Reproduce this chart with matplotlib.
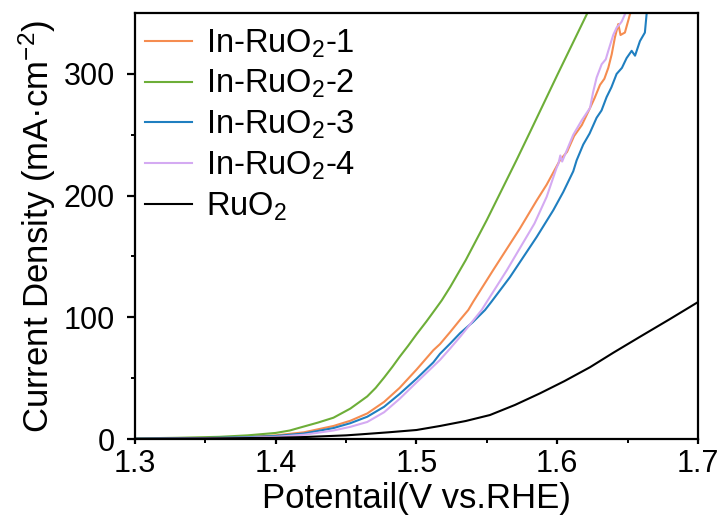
import matplotlib
matplotlib.use("Agg")
import matplotlib.pyplot as plt

plt.rcParams['font.family'] = ['Liberation Sans', 'DejaVu Sans']
plt.rcParams['mathtext.fontset'] = 'custom'
plt.rcParams['mathtext.rm'] = 'Liberation Sans'
plt.rcParams['mathtext.it'] = 'Liberation Sans:italic'
plt.rcParams['mathtext.bf'] = 'Liberation Sans:bold'

labels = ["In-RuO$_2$-1", "In-RuO$_2$-2", "In-RuO$_2$-3", "In-RuO$_2$-4", "RuO$_2$"]
colors = ["#F58C50", "#6DAE38", "#1F7FC0", "#D4AAF2", "#000000"]

# In-RuO2-1 (orange)
x1 = [1.30, 1.35, 1.38, 1.40, 1.42, 1.441, 1.453, 1.465, 1.477, 1.488, 1.50, 1.512, 1.5167,
      1.524, 1.531, 1.5368, 1.5404, 1.5546, 1.5735, 1.5854, 1.5925, 1.6019, 1.607, 1.612,
      1.6175, 1.6233, 1.6265, 1.6304, 1.6335, 1.6363, 1.6387, 1.641, 1.6434, 1.645, 1.6465,
      1.6481, 1.6505, 1.6517, 1.655]
y1 = [0.3, 0.8, 1.7, 3.0, 5.5, 10.7, 15, 21, 30.5, 42, 57, 73, 78,
      88, 98, 106, 113, 139, 173, 196, 209, 229, 236, 249,
      258, 272, 280, 291, 296, 305, 316, 330, 341, 332, 333,
      334, 344, 349, 358]

# In-RuO2-2 (green)
x2 = [1.30, 1.33, 1.36, 1.38, 1.40, 1.41, 1.417, 1.43, 1.441, 1.453, 1.465, 1.471, 1.477,
      1.483, 1.488, 1.494, 1.50, 1.507, 1.513, 1.518, 1.524, 1.535, 1.55, 1.571, 1.581,
      1.60, 1.621, 1.625]
y2 = [0.5, 1.0, 1.8, 3.0, 5.0, 7.0, 9.3, 13.5, 17.5, 25, 35, 42, 50.5,
      59.5, 67.5, 76.5, 86, 96.5, 106, 114, 125, 147, 180, 229, 253,
      299, 349, 358]

# In-RuO2-3 (blue)
x3 = [1.30, 1.35, 1.38, 1.40, 1.42, 1.441, 1.453, 1.465, 1.477, 1.488, 1.50, 1.512, 1.5167,
      1.524, 1.531, 1.54, 1.5487, 1.5534, 1.5664, 1.5854, 1.5972, 1.6043, 1.6114, 1.6138,
      1.6185, 1.623, 1.628, 1.6315, 1.6351, 1.6385, 1.6422, 1.646, 1.6493, 1.6529, 1.6553,
      1.6588, 1.6623, 1.6635, 1.665]
y3 = [0.3, 0.8, 1.5, 2.5, 4.5, 9.0, 13, 18.3, 26.5, 37, 49.5, 63, 70,
      78.5, 87, 96, 106, 113, 133, 166, 188, 203, 220, 229,
      242, 251, 264, 270, 281, 289, 300, 305, 313, 319, 315,
      327, 334, 349, 358]

# In-RuO2-4 (purple)
x4 = [1.30, 1.35, 1.38, 1.40, 1.42, 1.441, 1.453, 1.465, 1.477, 1.488, 1.50, 1.5167, 1.524,
      1.531, 1.5463, 1.5641, 1.5838, 1.5925, 1.5996, 1.6008, 1.6022, 1.6035, 1.6114, 1.6175,
      1.6233, 1.6255, 1.628, 1.6316, 1.6345, 1.6363, 1.6398, 1.6422, 1.6445, 1.6458, 1.6481,
      1.651]
y4 = [0.2, 0.6, 1.1, 1.8, 3.5, 7.0, 10, 14, 22, 33, 46.5, 65, 74.5,
      84, 106, 138.5, 177, 199, 223, 226, 233, 228, 250, 262,
      272, 285, 297, 308, 312, 319, 332, 338, 341, 343, 349,
      357]

# RuO2 (black)
x5 = [1.30, 1.35, 1.40, 1.42, 1.45, 1.46, 1.48, 1.50, 1.5167, 1.535, 1.5522, 1.57, 1.5877,
      1.605, 1.6233, 1.64, 1.6588, 1.68, 1.70]
y5 = [0.1, 0.4, 1.0, 1.6, 3.0, 3.8, 5.5, 7.4, 10.7, 14.8, 19.7, 28, 37.5,
      47.5, 59, 71, 84, 98.5, 112.5]

fig = plt.figure(figsize=(7.24, 5.24), dpi=100)
ax = fig.add_axes([0.1865, 0.1622, 0.7775, 0.8128])

series = [(x1, y1), (x2, y2), (x3, y3), (x4, y4), (x5, y5)]
for (xs, ys), lab, col in zip(series, labels, colors):
    ax.plot(xs, ys, color=col, lw=1.5, label=lab)

ax.set_xlim(1.3, 1.7)
ax.set_ylim(0, 350)
ax.set_xticks([1.3, 1.4, 1.5, 1.6, 1.7])
ax.set_xticks([1.35, 1.45, 1.55, 1.65], minor=True)
ax.set_yticks([0, 100, 200, 300])
ax.set_yticks([50, 150, 250], minor=True)
ax.set_xticklabels(["1.3", "1.4", "1.5", "1.6", "1.7"])

for s in ax.spines.values():
    s.set_linewidth(1.6)
ax.tick_params(axis='x', which='major', direction='out', length=3.8, width=1.6,
               labelsize=22, pad=3.5, top=False)
ax.tick_params(axis='y', which='major', direction='out', length=5.5, width=1.6,
               labelsize=22, pad=9, right=False)
ax.tick_params(axis='both', which='minor', direction='out', length=3, width=1.4,
               top=False, right=False)

ax.set_xlabel("Potentail(V vs.RHE)", fontsize=25, labelpad=2)
ax.set_ylabel("Current Density (mA\u00b7cm$^{-2}$)", fontsize=25, labelpad=4)

leg = ax.legend(loc='upper left', frameon=False, fontsize=23.5, handlelength=1.45,
                handletextpad=0.42, labelspacing=0.26, borderaxespad=0.1, borderpad=0.2,
                bbox_to_anchor=(0.0, 0.99))

fig.savefig("out.png", dpi=100)
